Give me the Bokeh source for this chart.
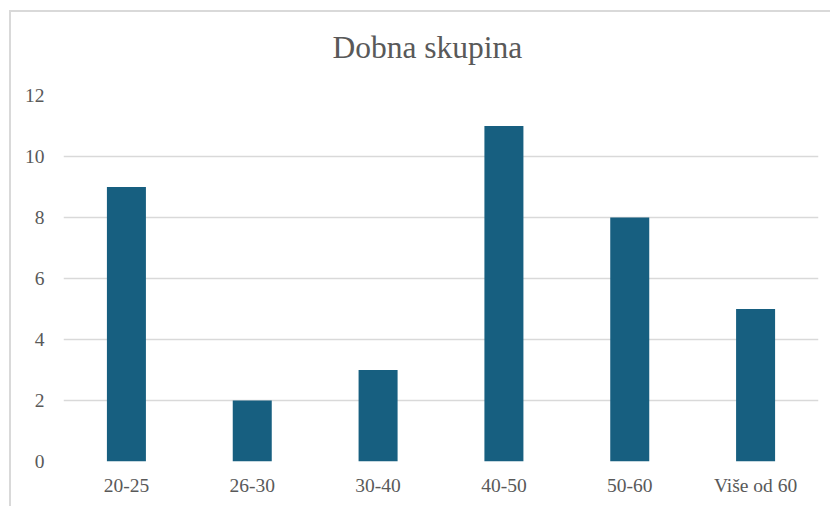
from bokeh.plotting import figure
from bokeh.models import ColumnDataSource, FactorRange, Range1d, FixedTicker, Title
from bokeh.embed import file_html
from bokeh.resources import INLINE

categories = ["20-25", "26-30", "30-40", "40-50", "50-60", "Više od 60"]
counts = [9, 2, 3, 11, 8, 5]
y_ticks = [0, 2, 4, 6, 8, 10, 12]
title_text = "Dobna skupina"

FONT = "Liberation Serif"
TXT = "#595959"

source = ColumnDataSource(data=dict(cat=categories, val=counts))

p = figure(
    x_range=FactorRange(*categories, range_padding=0),
    y_range=Range1d(0, 12),
    width=821, height=496,
    output_backend="svg", toolbar_location=None,
    min_border_left=52, min_border_right=14,
    min_border_top=82, min_border_bottom=47,
)
p.styles = {"border-left": "2px solid #d9d9d9", "border-top": "2px solid #d9d9d9",
            "margin-left": "9px", "margin-top": "10px"}

p.vbar(x="cat", top="val", width=0.31, source=source,
       fill_color="#175F80", line_color=None)

p.outline_line_color = None
p.background_fill_color = "white"
p.border_fill_color = "white"

# small spacer between the plot area and the title (closest to the frame)
spacer = Title(text=" ", text_font_size="1px", standoff=8)
p.add_layout(spacer, "above")

main_title = Title(text=title_text, align="left", offset=269, vertical_align="top",
                   text_font=FONT, text_font_size="31.5px", text_font_style="normal",
                   text_color=TXT, standoff=35)
p.add_layout(main_title, "above")

p.xgrid.grid_line_color = None
p.ygrid.grid_line_color = "#d9d9d9"
p.ygrid.grid_line_width = 1.5
p.yaxis.ticker = FixedTicker(ticks=y_ticks)

for ax in (p.xaxis[0], p.yaxis[0]):
    ax.axis_line_color = None
    ax.major_tick_line_color = None
    ax.minor_tick_line_color = None
    ax.major_tick_out = 0
    ax.major_tick_in = 0
    ax.major_label_text_font = FONT
    ax.major_label_text_font_size = "19.5px"
    ax.major_label_text_color = TXT

p.xaxis.major_label_standoff = 13
p.yaxis.major_label_standoff = 19

open("out.html", "w").write(file_html(p, INLINE))
